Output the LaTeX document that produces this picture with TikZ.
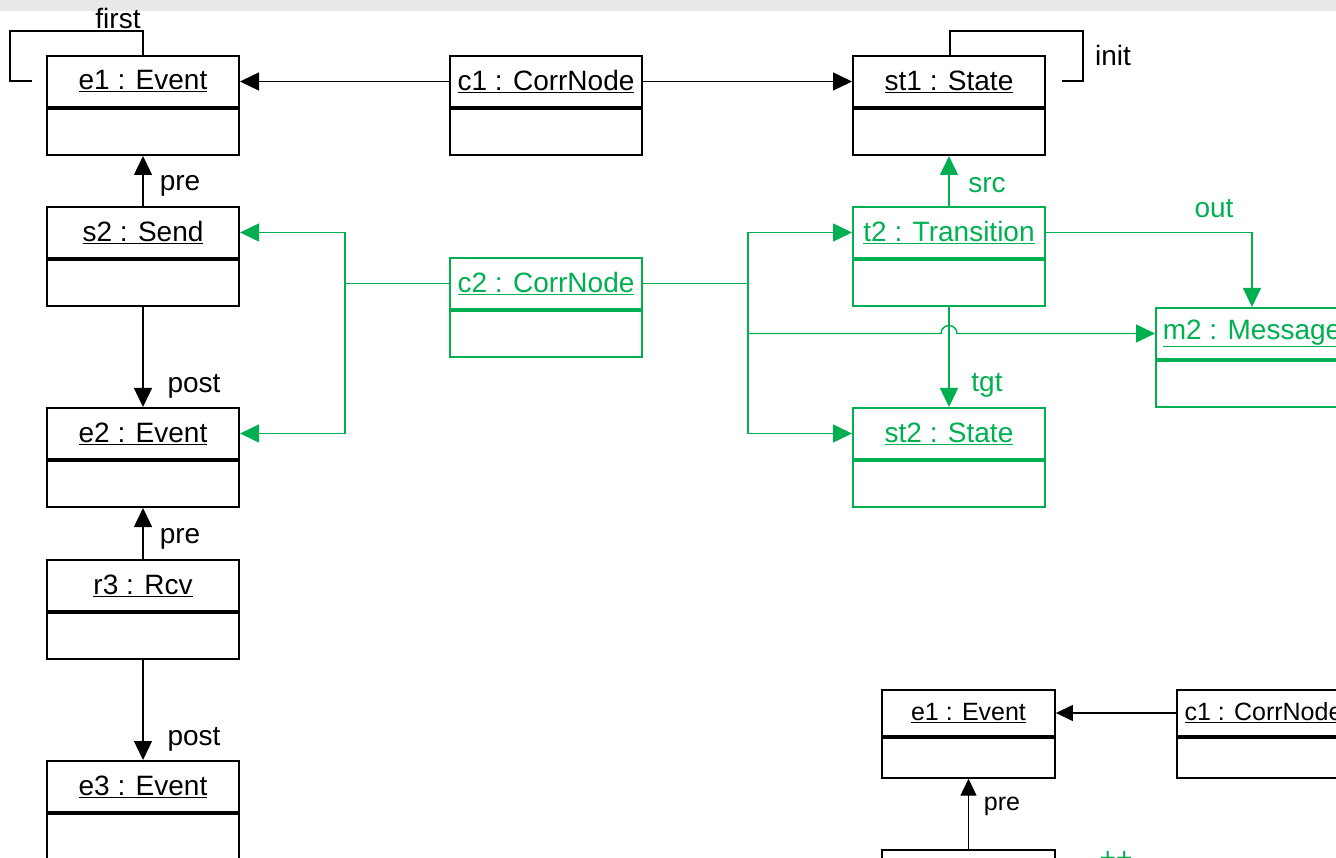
\documentclass[tikz,border=0pt]{standalone}
\usepackage{fontspec}
\setmainfont{Liberation Sans}
\usetikzlibrary{arrows.meta}
\definecolor{grn}{HTML}{00B050}
\definecolor{band}{HTML}{E7E8E8}
\tikzset{
  objhead/.style={draw, line width=2pt, minimum width=192pt, minimum height=51pt, inner sep=0pt, font=\fontsize{28}{33}\selectfont},
  objbody/.style={draw, line width=2pt, minimum width=192pt, minimum height=46pt, inner sep=0pt, anchor=north},
  smallhead/.style={draw, line width=1.8pt, minimum width=173pt, minimum height=46pt, inner sep=0pt, font=\fontsize{25}{30}\selectfont},
  smallbody/.style={draw, line width=1.8pt, minimum width=173pt, minimum height=40pt, inner sep=0pt, anchor=north},
  conn/.style={line width=1.4pt, -{Triangle[length=19pt,width=18pt]}},
  sconn/.style={line width=1.3pt, -{Triangle[length=17pt,width=16pt]}},
  plain/.style={line width=1.4pt},
  lbl/.style={font=\fontsize{28}{33}\selectfont, inner sep=0pt},
  slbl/.style={font=\fontsize{25}{30}\selectfont, inner sep=0pt},
  g/.style={grn, text=grn}
}
\begin{document}
\begin{tikzpicture}[x=1pt,y=-1pt]
\useasboundingbox (0,0) rectangle (1336,858);
\clip (0,0) rectangle (1336,858);
\fill[band] (0,0) rectangle (1336,11);

% left column
\node[objhead] (e1) at (143,81.5) {\underline{e1 : Event}};
\node[objbody] (e1b) at (e1.south) {};
\node[objhead] (s2) at (143,232.5) {\underline{s2 : Send}};
\node[objbody] (s2b) at (s2.south) {};
\node[objhead] (e2) at (143,433.5) {\underline{e2 : Event}};
\node[objbody] (e2b) at (e2.south) {};
\node[objhead] (r3) at (143,585.5) {\underline{r3 : Rcv}};
\node[objbody] (r3b) at (r3.south) {};
\node[objhead] (e3) at (143,786.5) {\underline{e3 : Event}};
\node[objbody] (e3b) at (e3.south) {};

% middle
\node[objhead] (c1) at (546,81.5) {\underline{c1 : CorrNode}};
\node[objbody] (c1b) at (c1.south) {};
\node[objhead,g] (c2) at (546,283.5) {\underline{c2 : CorrNode}};
\node[objbody,g] (c2b) at (c2.south) {};

% right
\node[objhead] (st1) at (949,81.5) {\underline{st1 : State}};
\node[objbody] (st1b) at (st1.south) {};
\node[objhead,g] (t2) at (949,232.5) {\underline{t2 : Transition}};
\node[objbody,g] (t2b) at (t2.south) {};
\node[objhead,g] (st2) at (949,433.5) {\underline{st2 : State}};
\node[objbody,g] (st2b) at (st2.south) {};
\node[objhead,g] (m2) at (1252,333.5) {\underline{m2 : Message}};
\node[objbody,g] (m2b) at (m2.south) {};

% small bottom-right copy
\node[smallhead] (se1) at (968.5,713) {\underline{e1 : Event}};
\node[smallbody] (se1b) at (se1.south) {};
\node[smallhead] (sc1) at (1263.5,713) {\underline{c1 : CorrNode}};
\node[smallbody] (sc1b) at (sc1.south) {};
\node[smallhead] (sx) at (968.5,873) {};
\node[lbl, text=grn] (plus) at (1116,859) {++};

% black connectors
\draw[conn] (c1.west) -- (e1.east);
\draw[conn] (c1.east) -- (st1.west);
\draw[conn] (s2.north) -- (e1b.south) node[lbl] at (180,186) {pre};
\draw[conn] (s2b.south) -- (e2.north) node[lbl] at (194,386) {post};
\draw[conn] (r3.north) -- (e2b.south) node[lbl] at (180,539) {pre};
\draw[conn] (r3b.south) -- (e3.north) node[lbl] at (194,739) {post};
\coordinate (firstend) at (32,81);
\draw[plain] (e1.north) |- (10,31) |- (firstend);
\node[lbl] (firstlbl) at (118,18) {first};
\coordinate (initend) at (1062,81);
\draw[plain] ([xshift=1pt]st1.north) |- (1083,31) |- (initend);
\node[lbl] (initlbl) at (1113,55) {init};

% green connectors
\coordinate (jl) at (345,283.5);
\coordinate (jr) at (748,283.5);
\draw[plain, grn] (c2.west) -- (jl);
\draw[conn, grn] (jl) |- (s2.east);
\draw[conn, grn] (jl) |- (e2.east);
\draw[plain, grn] (c2.east) -- (jr);
\draw[conn, grn] (jr) |- (t2.west);
\draw[conn, grn] (jr) |- (st2.west);
\coordinate (jm) at (748,333.5);
\draw[conn, grn] (jm) -- (941,333.5) arc[start angle=180, end angle=360, radius=8] -- (m2.west);
\draw[conn, grn] (t2.north) -- (st1b.south) node[lbl, text=grn] at (987,185) {src};
\draw[conn, grn] (t2b.south) -- (st2.north) node[lbl, text=grn] at (987,385) {tgt};
\draw[conn, grn] (t2.east) -| (m2.north) node[lbl, text=grn] at (1214,209) {out};

% small connectors
\draw[sconn] (sc1.west) -- (se1.east);
\draw[sconn] (sx.north) -- (se1b.south) node[slbl] at (1002,806) {pre};
\end{tikzpicture}
\end{document}
